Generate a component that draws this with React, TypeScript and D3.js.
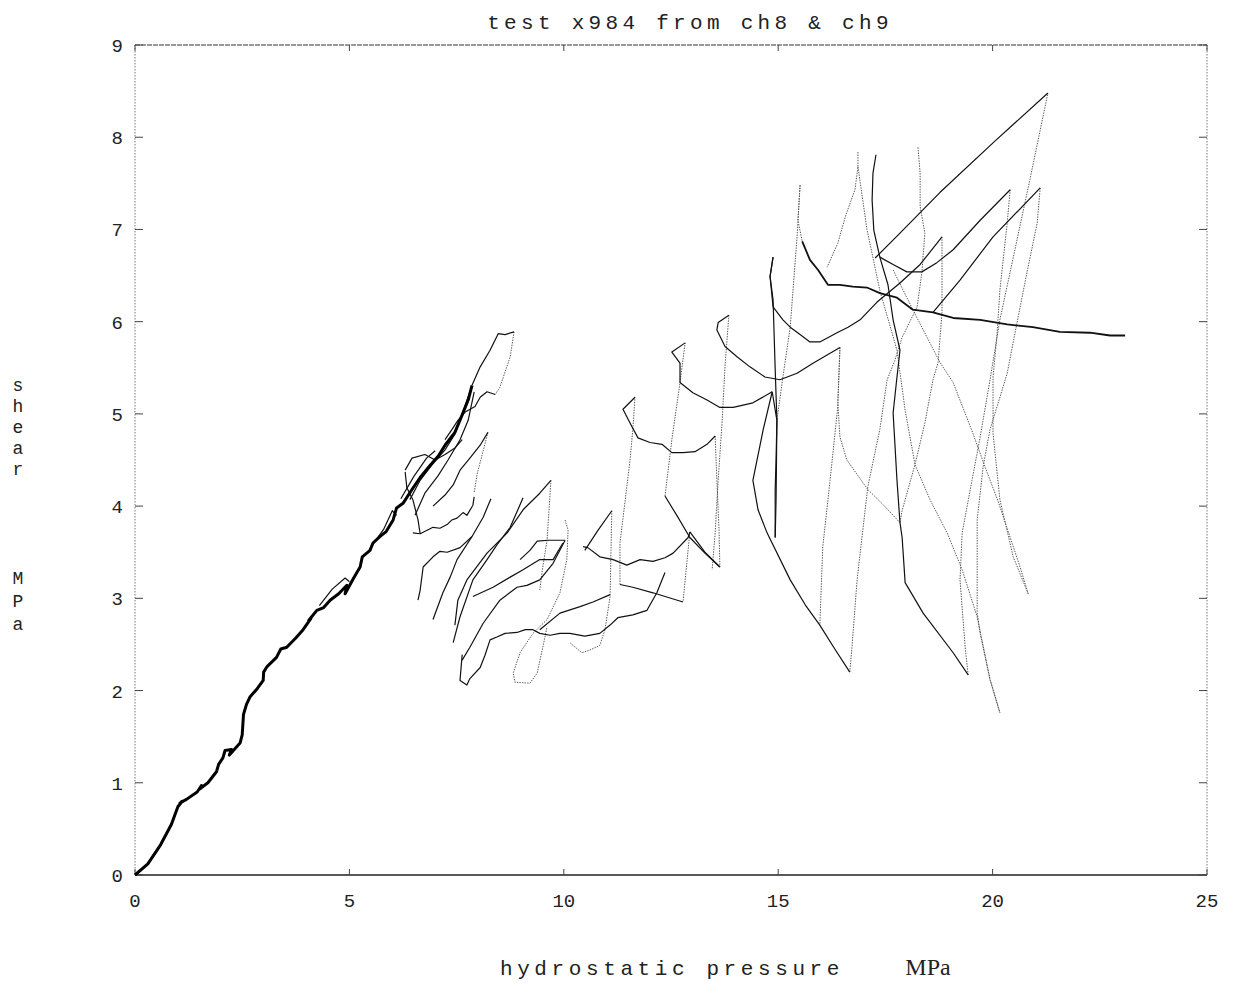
import React from "react";
import * as d3 from "d3";

type P = [number, number];

// Axis ticks
const xTicks = [0, 5, 10, 15, 20, 25];
const yTicks = [0, 1, 2, 3, 4, 5, 6, 7, 8, 9];

// Initial loading ramp (hydrostatic pressure MPa, shear MPa)
const ramp: P[] = [[0,0],[0.3,0.12],[0.6,0.33],[0.85,0.55],[1.0,0.74],[1.1,0.8],[1.05,0.78],[1.2,0.82],[1.45,0.9],[1.55,0.97],[1.5,0.93],[1.7,1.0],[1.9,1.12],[1.95,1.2],[2.05,1.27],[2.1,1.35],[2.25,1.36],[2.2,1.3],[2.45,1.43],[2.5,1.52],[2.53,1.74],[2.6,1.85],[2.68,1.93],[2.85,2.02],[2.99,2.11],[3.0,2.2],[3.08,2.26],[3.3,2.36],[3.4,2.45],[3.54,2.47],[3.6,2.5],[3.75,2.57],[3.92,2.66],[4.1,2.78],[4.05,2.76],[4.24,2.87],[4.4,2.9],[4.55,2.98],[4.75,3.05],[4.94,3.14],[4.9,3.05],[5.1,3.22],[5.25,3.34],[5.3,3.45],[5.48,3.52],[5.55,3.6],[5.71,3.67],[5.85,3.72],[6.02,3.85],[6.1,3.98],[6.25,4.03],[6.46,4.18],[6.65,4.31],[6.88,4.44],[7.07,4.54],[7.23,4.66],[7.46,4.8],[7.63,4.99],[7.77,5.15],[7.86,5.31]];
// Small unload/reload loops alongside the ramp
const rampLoopA: P[] = [[4.3,2.92],[4.6,3.1],[4.9,3.22],[5.0,3.18]];
const rampLoopB: P[] = [[5.5,3.55],[5.8,3.75],[6.0,3.95],[6.1,3.9]];
const rampLoopC: P[] = [[6.2,4.08],[6.5,4.32],[6.8,4.52],[7.0,4.6]];

// Early cycles, 6-10 MPa
const c1: P[] = [[7.86,5.31],[8.05,5.51],[8.28,5.69],[8.47,5.87],[8.63,5.86],[8.84,5.89]];
const c2: P[] = [[8.84,5.89],[8.75,5.62],[8.51,5.29],[8.40,5.21]];
const c3: P[] = [[8.40,5.21],[8.21,5.24],[8.05,5.18],[7.93,5.08],[7.70,5.02],[7.53,4.93],[7.39,4.83],[7.23,4.72]];
const c4: P[] = [[6.41,4.07],[6.65,4.28],[6.93,4.45],[7.23,4.61],[7.46,4.78],[7.63,5.0],[7.81,5.24]];
const c5: P[] = [[6.53,3.90],[6.76,4.14],[7.07,4.33],[7.30,4.5],[7.58,4.72],[7.77,4.93],[7.91,5.24]];
const c6: P[] = [[6.30,4.39],[6.46,4.52],[6.76,4.56],[7.00,4.5],[7.23,4.56],[7.46,4.63],[7.63,4.72]];
const c7: P[] = [[6.30,4.37],[6.34,4.2],[6.48,4.07],[6.60,3.85],[6.65,3.70]];
const c8: P[] = [[8.23,4.80],[8.05,4.66],[7.81,4.52],[7.58,4.39],[7.42,4.23],[7.23,4.12],[6.95,4.00]];
const c9: P[] = [[8.23,4.80],[8.12,4.6],[7.98,4.35],[7.91,4.15]];
const c10: P[] = [[6.48,3.71],[6.65,3.70],[6.95,3.77],[7.11,3.76],[7.28,3.80],[7.39,3.85],[7.51,3.87],[7.65,3.93],[7.74,3.90],[7.88,4.01],[7.91,4.10]];
const c11: P[] = [[8.30,4.08],[8.12,3.88],[7.86,3.67],[7.51,3.42],[7.35,3.23],[7.18,3.06],[6.95,2.77]];
const c12: P[] = [[7.86,3.67],[7.58,3.55],[7.28,3.50],[7.11,3.51],[6.95,3.45],[6.72,3.34],[6.65,3.09],[6.60,2.98]];
const c13: P[] = [[9.05,4.09],[8.75,3.77],[8.44,3.58],[8.21,3.42],[7.88,3.20],[7.58,2.80],[7.42,2.52]];
const c14: P[] = [[9.70,4.28],[9.44,4.14],[9.05,3.96],[8.68,3.71],[8.21,3.49],[7.74,3.20],[7.53,2.98],[7.46,2.71]];
const c15: P[] = [[9.70,4.28],[9.61,3.63],[9.51,3.34],[9.44,3.09]];
const c16: P[] = [[8.98,3.42],[9.21,3.52],[9.38,3.62],[9.63,3.63],[10.03,3.63]];
const c17: P[] = [[10.03,3.63],[9.75,3.38],[9.44,3.20],[9.14,3.14],[8.91,3.12],[8.51,2.98],[8.12,2.73],[7.81,2.47],[7.63,2.33]];
const c18: P[] = [[7.63,2.39],[7.58,2.11],[7.74,2.06],[7.81,2.13],[8.05,2.25],[8.16,2.38],[8.28,2.55],[8.44,2.58],[8.63,2.62],[8.91,2.63],[9.10,2.66],[9.28,2.66],[9.44,2.62],[9.68,2.60],[9.91,2.62],[10.14,2.62],[10.49,2.59],[10.84,2.62],[11.08,2.71]];
const c19: P[] = [[10.03,3.85],[10.10,3.74],[10.07,3.42],[9.91,3.06],[9.61,2.77],[9.28,2.62],[8.98,2.41],[8.82,2.19],[8.86,2.09],[9.21,2.08],[9.38,2.19],[9.51,2.47],[9.61,2.69]];
const c20a: P[] = [[10.49,3.52],[10.80,3.74],[11.12,3.95]];
const c20b: P[] = [[11.12,3.95],[11.10,3.52],[11.08,3.02],[10.96,2.66],[10.84,2.49],[10.61,2.44],[10.42,2.41],[10.14,2.52]];
const c21: P[] = [[10.45,3.56],[10.56,3.55],[10.84,3.45],[11.15,3.42],[11.47,3.36],[11.78,3.42],[12.08,3.40],[12.36,3.44],[12.55,3.49],[12.90,3.66],[12.94,3.72]];
const c22: P[] = [[12.94,3.72],[13.29,3.50],[13.64,3.34]];
const c23a: P[] = [[12.94,3.72],[12.78,2.96]];
const c23b: P[] = [[12.78,2.96],[12.08,3.06],[11.61,3.12],[11.31,3.15]];
const c23c: P[] = [[11.31,3.15],[11.31,3.60],[11.54,4.48],[11.61,4.83],[11.66,5.18]];
const c24: P[] = [[12.36,3.28],[12.17,3.06],[11.94,2.87],[11.61,2.82],[11.26,2.79],[11.08,2.71]];
const w1: P[] = [[7.88,3.02],[8.35,3.12],[8.75,3.23],[9.05,3.31],[9.44,3.42],[9.75,3.42],[9.98,3.60]];
const w2: P[] = [[9.44,2.66],[9.91,2.84],[10.38,2.91],[10.68,2.96],[11.08,3.04]];

// Middle cycles, 11-17 MPa
const m1: P[] = [[11.66,5.18],[11.38,5.05],[11.59,4.86],[11.73,4.74],[12.01,4.69],[12.29,4.67],[12.52,4.58],[12.78,4.58],[13.06,4.59],[13.34,4.67],[13.53,4.76]];
const m2: P[] = [[13.53,4.76],[13.57,4.28],[13.62,3.74],[13.64,3.34]];
const m3: P[] = [[13.64,3.34],[13.29,3.49],[12.94,3.66],[12.66,3.88],[12.36,4.11]];
const m4: P[] = [[12.36,4.11],[12.52,4.72],[12.71,5.34],[12.83,5.77]];
const m5: P[] = [[12.83,5.77],[12.52,5.67],[12.71,5.55],[12.71,5.34],[13.01,5.23],[13.34,5.15],[13.64,5.07],[13.95,5.07],[14.41,5.12],[14.86,5.24]];
const m6: P[] = [[14.86,5.24],[14.97,4.93],[14.95,4.5],[14.93,4.18],[14.93,3.66]];
const m7: P[] = [[14.86,5.24],[14.65,4.83],[14.41,4.28],[14.53,3.96],[14.74,3.71],[15.28,3.2],[15.63,2.93],[15.97,2.71],[16.32,2.45],[16.67,2.2]];
const m8: P[] = [[13.85,6.07],[13.60,5.99],[13.57,5.91],[13.76,5.73],[14.04,5.62],[14.34,5.51],[14.69,5.40],[15.04,5.37],[15.44,5.44],[15.81,5.55],[16.44,5.72]];
const m9: P[] = [[13.85,6.07],[13.76,5.52],[13.69,4.9],[13.60,4.28],[13.53,3.71],[13.46,3.31]];

// Late cycles, 15-23 MPa
const r1: P[] = [[14.93,3.66],[14.95,4.07],[14.97,4.93],[14.93,5.48],[14.88,6.24],[14.81,6.49],[14.88,6.70]];
const r2: P[] = [[14.88,6.70],[14.81,6.49],[14.88,6.16],[15.11,6.02],[15.28,5.94],[15.51,5.86],[15.74,5.78],[15.97,5.78],[16.21,5.84],[16.37,5.88],[16.63,5.94],[16.91,6.02],[17.30,6.21],[17.84,6.42],[18.31,6.62],[18.82,6.92]];
const r3: P[] = [[18.82,6.92],[18.82,6.10],[18.73,5.56],[18.61,5.37],[18.42,4.90],[18.19,4.45],[17.89,3.95],[17.84,3.82]];
const r4: P[] = [[17.84,3.82],[17.44,4.02],[17.09,4.18],[16.60,4.50],[16.44,4.75],[16.39,5.12],[16.44,5.72]];
const r5: P[] = [[17.84,3.82],[17.89,3.66],[17.96,3.17],[18.38,2.84],[19.08,2.41],[19.43,2.17]];
const r6: P[] = [[19.43,2.17],[19.36,2.47],[19.24,3.20],[19.29,3.71],[19.52,4.28],[19.71,4.75],[19.94,5.37],[20.17,6.02],[20.52,6.78],[20.87,7.54],[21.29,8.48]];
const r7: P[] = [[21.29,8.48],[20.06,7.96],[18.77,7.40],[17.84,6.96],[17.26,6.69]];
const r8: P[] = [[17.37,6.70],[17.68,6.62],[18.0,6.54],[18.35,6.54],[18.70,6.64],[19.08,6.78],[19.71,7.1],[20.41,7.43]];
const r9: P[] = [[20.41,7.43],[20.34,7.07],[20.17,6.34],[20.10,5.84],[20.01,5.40],[20.01,4.79],[20.17,4.07],[20.48,3.45],[20.83,3.05]];
const r10a: P[] = [[18.61,6.10],[19.24,6.45],[20.01,6.92],[21.11,7.45]];
const r10b: P[] = [[21.11,7.45],[21.04,7.07],[20.80,6.53],[20.57,5.99],[20.34,5.44],[19.94,4.83],[19.78,4.43],[19.64,3.85],[19.64,2.84],[19.71,2.62],[19.94,2.12],[20.17,1.76]];
const r11: P[] = [[17.68,6.56],[18.14,6.13],[18.77,5.56],[19.08,5.34],[19.54,4.79],[19.82,4.43],[20.13,4.05],[20.64,3.34],[20.83,3.05]];
const r13: P[] = [[18.26,7.89],[18.31,7.61],[18.31,7.25],[18.42,6.96],[18.35,6.53],[18.24,6.16],[17.89,5.83],[17.72,5.58],[17.54,5.37],[17.37,4.83],[17.09,4.21],[16.84,3.20],[16.72,2.47],[16.67,2.20]];
const spike: P[] = [[15.51,7.48],[15.46,7.10],[15.56,6.87]];
const tail: P[] = [[15.56,6.87],[15.74,6.67],[15.93,6.56],[16.16,6.40],[16.44,6.40],[16.74,6.38],[17.07,6.37],[17.37,6.31],[17.77,6.26],[18.14,6.13],[18.61,6.10],[19.08,6.04],[19.71,6.02],[20.34,5.97],[20.94,5.94],[21.57,5.89],[22.27,5.88],[22.74,5.85],[23.09,5.85]];
const r15: P[] = [[15.51,7.48],[15.44,6.92],[15.28,5.94],[15.11,5.40],[14.97,4.93]];
const r16: P[] = [[16.86,7.84],[16.86,7.68],[16.79,7.43],[16.58,7.16],[16.39,6.85],[16.14,6.59]];
const r17: P[] = [[17.28,7.81],[17.21,7.61],[17.19,7.32],[17.23,6.99],[17.37,6.70],[17.56,6.40],[17.68,6.02],[17.84,5.69],[17.77,5.40],[17.68,5.01],[17.77,4.28],[17.84,3.82]];
const r18: P[] = [[16.44,5.72],[16.39,5.08],[16.21,4.28],[16.04,3.56],[15.97,2.71]];
const r19: P[] = [[16.86,7.68],[17.07,7.00],[17.37,6.34],[17.77,5.69],[17.96,5.04],[18.19,4.45],[18.54,4.07],[18.94,3.71],[19.29,3.31],[19.64,2.80],[19.94,2.12],[20.17,1.76]];

// Slow (densely sampled) segments draw as solid lines, fast ones as sparse dots
const solidTraces: P[][] = [rampLoopA, rampLoopB, rampLoopC, c1, c3, c4, c5, c6, c7, c8, c10, c11, c12, c13, c14, c16, c17, c18, c20a, c21, c22, c23b, c24, w1, w2, m1, m3, m5, m6, m7, m8, r1, r2, r5, r7, r8, r10a, r17];
const dottedTraces: P[][] = [c2, c9, c15, c19, c20b, c23a, c23c, m2, m4, m9, r3, r4, r6, r9, r10b, r11, r13, spike, r15, r16, r18, r19];

const W = 1239;
const H = 986;
const L = 135, R = 1207, T = 45, B = 875;
const mono = "'Liberation Mono', 'Courier New', monospace";

export default function App() {
  const x = d3.scaleLinear().domain([0, 25]).range([L, R]);
  const y = d3.scaleLinear().domain([0, 9]).range([B, T]);
  const line = d3.line<P>().x((d) => x(d[0])).y((d) => y(d[1]));

  const shearLetters = ["s", "h", "e", "a", "r"];
  const unitLetters = ["M", "P", "a"];

  return (
    <svg width={W} height={H} style={{ position: "absolute", left: 0, top: 0, background: "#fff" }}>
      <text x={690} y={29} textAnchor="middle" fontFamily={mono} fontSize={21} letterSpacing={4.3} fill="#222">
        test x984 from ch8 &amp; ch9
      </text>

      {/* frame */}
      <line x1={L} x2={R} y1={T} y2={T} stroke="#333" strokeWidth={1} strokeDasharray="5 1" />
      <line x1={L} x2={R} y1={B} y2={B} stroke="#222" strokeWidth={1.4} />
      <line x1={L} x2={L} y1={T} y2={B} stroke="#777" strokeWidth={1} strokeDasharray="1.5 1.5" />
      <line x1={R} x2={R} y1={T} y2={B} stroke="#777" strokeWidth={1} strokeDasharray="1.5 1.5" />

      {yTicks.map((t) => (
        <g key={"y" + t}>
          <line x1={L} x2={L + 8} y1={y(t)} y2={y(t)} stroke="#444" />
          <line x1={R - 8} x2={R} y1={y(t)} y2={y(t)} stroke="#444" />
          <text x={123} y={y(t) + 7} textAnchor="end" fontFamily={mono} fontSize={19} fill="#222">{t}</text>
        </g>
      ))}
      {xTicks.map((t) => (
        <g key={"x" + t}>
          <line x1={x(t)} x2={x(t)} y1={B} y2={B - 6} stroke="#444" />
          <line x1={x(t)} x2={x(t)} y1={T} y2={T + 6} stroke="#444" />
          <text x={x(t)} y={907} textAnchor="middle" fontFamily={mono} fontSize={19} fill="#222">{t}</text>
        </g>
      ))}

      <text x={672} y={975} textAnchor="middle" fontFamily={mono} fontSize={21} letterSpacing={4.6} fill="#222">
        hydrostatic pressure
      </text>
      <text x={928} y={975} textAnchor="middle" fontFamily="'Liberation Serif', 'Times New Roman', serif" fontSize={24} fill="#222">
        MPa
      </text>

      {shearLetters.map((c, i) => (
        <text key={"s" + i} x={18} y={391 + i * 21} textAnchor="middle" fontFamily={mono} fontSize={18} fill="#222">{c}</text>
      ))}
      {unitLetters.map((c, i) => (
        <text key={"u" + i} x={18} y={584 + i * 23} textAnchor="middle" fontFamily={mono} fontSize={18} fill="#222">{c}</text>
      ))}

      {/* load path */}
      {dottedTraces.map((d, i) => (
        <path key={"d" + i} d={line(d) || ""} fill="none" stroke="#555" strokeWidth={1} strokeDasharray="1.4 1.2" />
      ))}
      {solidTraces.map((d, i) => (
        <path key={"s" + i} d={line(d) || ""} fill="none" stroke="#111" strokeWidth={1.2} strokeLinejoin="round" />
      ))}
      <path d={line(tail) || ""} fill="none" stroke="#111" strokeWidth={1.8} strokeLinejoin="round" />
      <path d={line(ramp) || ""} fill="none" stroke="#000" strokeWidth={3} strokeLinejoin="round" />
    </svg>
  );
}
